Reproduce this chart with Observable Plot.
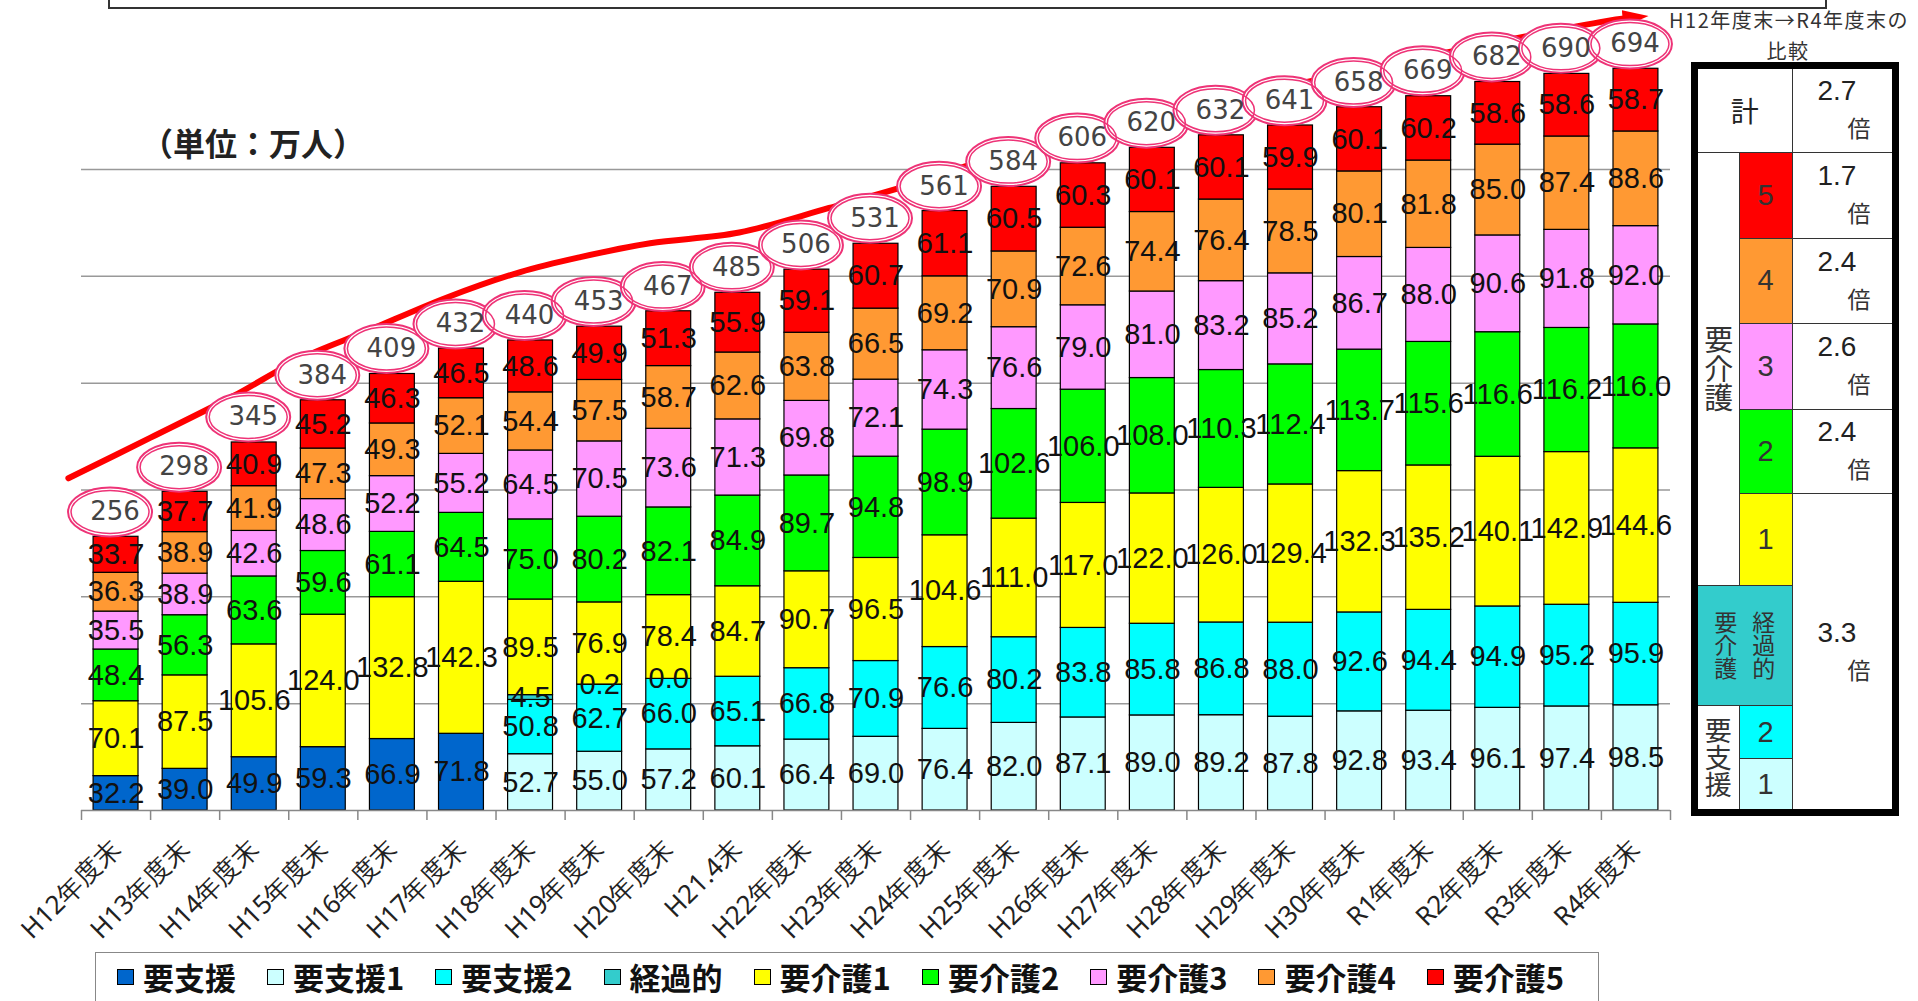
<!DOCTYPE html>
<html><head><meta charset="utf-8">
<script src="https://cdn.jsdelivr.net/npm/d3@7"></script>
<script src="https://cdn.jsdelivr.net/npm/@observablehq/plot@0.6"></script>
<style>
html,body{margin:0;padding:0;background:#fff;}
#wrap{position:relative;width:1918px;height:1001px;overflow:hidden;font-family:"Noto Sans CJK JP",sans-serif;color:#222;}
#chart{position:absolute;left:0;top:0;}
#chart svg{overflow:visible;}
g[aria-label="totals"] text{letter-spacing:10px;}
g[aria-label="xlabels"] text{font-family:"Noto Sans CJK JP",sans-serif;font-size:26px;}
#topbox{position:absolute;left:108px;top:-30px;width:1715px;height:35px;border:2px solid #333;}
#unit{position:absolute;left:141px;top:122px;font-size:32px;font-weight:bold;line-height:40px;color:#222;}
.cap{position:absolute;text-align:center;font-size:20px;line-height:26px;color:#333;white-space:nowrap;}
#cap1{left:1662px;top:7px;width:254px;letter-spacing:1.5px;}
#cap2{left:1764px;top:37.5px;width:48px;letter-spacing:1.5px;}
#tblbox{position:absolute;left:1691px;top:62px;width:194px;height:740px;border:7px solid #000;background:#fff;}
#tbl{border-collapse:collapse;width:194px;height:740px;table-layout:fixed;border-style:hidden;}
#tbl td{border:1.5px solid #333;padding:0;text-align:center;vertical-align:middle;color:#333;overflow:hidden;}
#tbl td.num{font-family:"Liberation Sans",Arial,sans-serif;font-size:29px;}
#tbl td.vert{writing-mode:vertical-rl;font-size:29px;line-height:41px;}
#tbl td.v{text-align:left;}
#tbl .n{font-family:"Liberation Sans Narrow","Liberation Sans",sans-serif;font-size:28px;line-height:34px;padding-left:25px;color:#222;}
#tbl .b{font-size:23px;line-height:38px;padding-left:55px;color:#333;}
#legend{position:absolute;left:95px;top:952px;width:1504px;height:49px;border:1.5px solid #888;border-bottom:none;display:flex;align-items:center;padding-left:21px;box-sizing:border-box;gap:31px;}
#legend .it{display:flex;align-items:center;font-size:31px;font-weight:bold;color:#111;line-height:36px;}
#legend .sw{width:15px;height:14px;border:1.5px solid #000;margin-right:9px;}
</style>
</head><body><div id="wrap">
<div id="topbox"></div>
<div id="chart"></div>
<div id="unit">（単位：万人）</div>
<div id="cap1" class="cap">H12年度末→R4年度末の</div>
<div id="cap2" class="cap">比較</div>
<div id="tblbox"><table id="tbl">
<colgroup><col style="width:41px"><col style="width:53px"><col style="width:100px"></colgroup>
<tr style="height:83px"><td colspan="2" style="font-size:28px;color:#222">計</td><td class="v"><div class="n">2.7</div><div class="b">倍</div></td></tr>
<tr style="height:86px"><td rowspan="5" class="vert">要介護</td><td class="num" style="background:#FF0000">5</td><td class="v"><div class="n">1.7</div><div class="b">倍</div></td></tr>
<tr style="height:85px"><td class="num" style="background:#FF9933">4</td><td class="v"><div class="n">2.4</div><div class="b">倍</div></td></tr>
<tr style="height:86px"><td class="num" style="background:#FF99FF">3</td><td class="v"><div class="n">2.6</div><div class="b">倍</div></td></tr>
<tr style="height:84px"><td class="num" style="background:#00FF00">2</td><td class="v"><div class="n">2.4</div><div class="b">倍</div></td></tr>
<tr style="height:92px"><td class="num" style="background:#FFFF00">1</td><td rowspan="4" class="v"><div class="n">3.3</div><div class="b">倍</div></td></tr>
<tr style="height:120px"><td colspan="2" class="vert" style="background:#33CCCC;font-size:23px;line-height:38px;">経過的<br>要介護</td></tr>
<tr style="height:53px"><td rowspan="2" class="vert" style="font-size:27px;">要支援</td><td class="num" style="background:#00FFFF">2</td></tr>
<tr style="height:50px"><td class="num" style="background:#CCFFFF">1</td></tr>
</table></div>
<div id="legend"></div>
</div>
<script>
const categories = ["H12年度末","H13年度末","H14年度末","H15年度末","H16年度末","H17年度末","H18年度末","H19年度末","H20年度末","H21.4末","H22年度末","H23年度末","H24年度末","H25年度末","H26年度末","H27年度末","H28年度末","H29年度末","H30年度末","R1年度末","R2年度末","R3年度末","R4年度末"];
const series = ["要支援","要支援1","要支援2","経過的","要介護1","要介護2","要介護3","要介護4","要介護5"];
const colors = ["#0066CC","#CCFFFF","#00FFFF","#33CCCC","#FFFF00","#00FF00","#FF99FF","#FF9933","#FF0000"];
const _ = null;
const youshien  = [32.2,39.0,49.9,59.3,66.9,71.8,_,_,_,_,_,_,_,_,_,_,_,_,_,_,_,_,_];
const youshien1 = [_,_,_,_,_,_,52.7,55.0,57.2,60.1,66.4,69.0,76.4,82.0,87.1,89.0,89.2,87.8,92.8,93.4,96.1,97.4,98.5];
const youshien2 = [_,_,_,_,_,_,50.8,62.7,66.0,65.1,66.8,70.9,76.6,80.2,83.8,85.8,86.8,88.0,92.6,94.4,94.9,95.2,95.9];
const keikateki = [_,_,_,_,_,_,4.5,0.2,0.0,_,_,_,_,_,_,_,_,_,_,_,_,_,_];
const kaigo1 = [70.1,87.5,105.6,124.0,132.8,142.3,89.5,76.9,78.4,84.7,90.7,96.5,104.6,111.0,117.0,122.0,126.0,129.4,132.3,135.2,140.1,142.9,144.6];
const kaigo2 = [48.4,56.3,63.6,59.6,61.1,64.5,75.0,80.2,82.1,84.9,89.7,94.8,98.9,102.6,106.0,108.0,110.3,112.4,113.7,115.6,116.6,116.2,116.0];
const kaigo3 = [35.5,38.9,42.6,48.6,52.2,55.2,64.5,70.5,73.6,71.3,69.8,72.1,74.3,76.6,79.0,81.0,83.2,85.2,86.7,88.0,90.6,91.8,92.0];
const kaigo4 = [36.3,38.9,41.9,47.3,49.3,52.1,54.4,57.5,58.7,62.6,63.8,66.5,69.2,70.9,72.6,74.4,76.4,78.5,80.1,81.8,85.0,87.4,88.6];
const kaigo5 = [33.7,37.7,40.9,45.2,46.3,46.5,48.6,49.9,51.3,55.9,59.1,60.7,61.1,60.5,60.3,60.1,60.1,59.9,60.1,60.2,58.6,58.6,58.7];
const totals = [256,298,345,384,409,432,440,453,467,485,506,531,561,584,606,620,632,641,658,669,682,690,694];
const gridValues = [100,200,300,400,500,600];
// red trend arrow in (category position, 万人) units
const arrowX = [-0.19,1.0,2.2,3.17,4.14,5.28,6.35,7.22,8.23,9.52,10.82,12.11,13.08,15.02,21.98,22.42];
const arrowV = [311,349,388,423,449,480,504,518,531,541,564,588,609,643,738,742];

const seriesValues = [youshien,youshien1,youshien2,keikateki,kaigo1,kaigo2,kaigo3,kaigo4,kaigo5];
const data = [];
categories.forEach((c,i) => seriesValues.forEach((arr,s) => {
  if (arr[i] != null) data.push({i, cat: c, series: series[s], value: arr[i]});
}));
const totalData = totals.map((t,i) => ({i, total: t}));
const arrowData = arrowX.map((x,k) => ({x, v: arrowV[k]}));

const ellipse = {draw(ctx, size) {
  const ry = Math.sqrt(size/Math.PI), rx = ry + 17.5, k = 0.5523;
  ctx.moveTo(rx,0);
  ctx.bezierCurveTo(rx, ry*k, rx*k, ry, 0, ry);
  ctx.bezierCurveTo(-rx*k, ry, -rx, ry*k, -rx, 0);
  ctx.bezierCurveTo(-rx, -ry*k, -rx*k, -ry, 0, -ry);
  ctx.bezierCurveTo(rx*k, -ry, rx, -ry*k, rx, 0);
  ctx.closePath();
}};
function arrowHead(color, context) {
  const ns = "http://www.w3.org/2000/svg";
  const doc = (context && context.document) || document;
  const m = doc.createElementNS(ns, "marker");
  m.setAttribute("viewBox", "0 -5 10 10");
  m.setAttribute("markerUnits", "userSpaceOnUse");
  m.setAttribute("markerWidth", 26);
  m.setAttribute("markerHeight", 17);
  m.setAttribute("preserveAspectRatio", "none");
  m.setAttribute("refX", 3);
  m.setAttribute("refY", 0);
  m.setAttribute("orient", "auto");
  const p = doc.createElementNS(ns, "path");
  p.setAttribute("d", "M0,-5L10,0L0,5Z");
  p.setAttribute("fill", color);
  p.setAttribute("stroke", "none");
  m.appendChild(p);
  return m;
}
const ringColor = "#EE3377";
const chart = Plot.plot({
  width: 1690, height: 950,
  marginLeft: 81, marginRight: 20, marginTop: 0, marginBottom: 140,
  style: "overflow: visible; background: transparent;",
  x: {type: "linear", domain: [0, 23]},
  y: {domain: [0, 758.2], axis: null},
  color: {domain: series, range: colors},
  marks: [
    Plot.ruleY(gridValues, {stroke: "#999", strokeWidth: 1.5}),
    Plot.rectY(data, {x1: d => d.i + 0.175, x2: d => d.i + 0.825, y: "value", z: "series", fill: "series", stroke: "#000", strokeWidth: 1.2}),
    Plot.ruleY([0], {stroke: "#888", strokeWidth: 1.5}),
    Plot.axisX({ticks: d3.range(24), tickSize: 10, tickFormat: () => "", label: null, stroke: "#888", strokeWidth: 1.5}),
    Plot.axisX({ticks: d3.range(23).map(i => i + 0.5), tickSize: 0, tickPadding: 34, tickRotate: -45, label: null,
      tickFormat: v => categories[Math.floor(v)], fontSize: 26, fill: "#222", ariaLabel: "xlabels"}),
    Plot.text(data, Plot.stackY({x: d => d.i + 0.5, y: "value", z: "series", text: d => d.value.toFixed(1),
      fontSize: 29, fontFamily: "Liberation Sans, Arial, sans-serif", fill: "#111"})),
    Plot.line(arrowData, {x: "x", y: "v", stroke: "#FF0000", strokeWidth: 6, curve: "catmull-rom", markerEnd: arrowHead}),
    Plot.dot(totalData, {x: d => d.i + 0.5, y: "total", dx: -6, dy: -25, r: 24.5, symbol: ellipse, fill: "white", stroke: ringColor, strokeWidth: 2}),
    Plot.dot(totalData, {x: d => d.i + 0.5, y: "total", dx: -6, dy: -25, r: 21.5, symbol: ellipse, fill: "none", stroke: ringColor, strokeWidth: 1.5}),
    Plot.text(totalData, {x: d => d.i + 0.5, y: "total", dx: -1, dy: -25, text: d => String(d.total),
      fontSize: 26, fontFamily: "DejaVu Sans, sans-serif", fill: "#444", ariaLabel: "totals"})
  ]
});
document.getElementById("chart").appendChild(chart);

const legend = document.getElementById("legend");
series.forEach((s,k) => {
  const it = document.createElement("div"); it.className = "it";
  const sw = document.createElement("div"); sw.className = "sw"; sw.style.background = colors[k];
  const tx = document.createElement("span"); tx.textContent = s;
  it.appendChild(sw); it.appendChild(tx); legend.appendChild(it);
});
</script>
</body></html>
